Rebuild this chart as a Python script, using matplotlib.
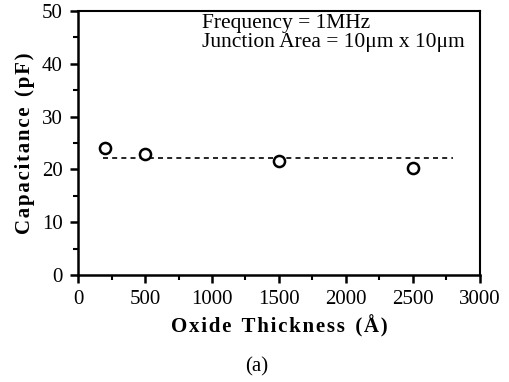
import matplotlib
matplotlib.use("Agg")
import matplotlib.pyplot as plt
from matplotlib.ticker import MultipleLocator

thickness = [200, 500, 1500, 2500]
capacitance = [24.0, 22.9, 21.6, 20.3]
fit_x = [190, 2800]
fit_y = [22.2, 22.2]

plt.rcParams['font.family'] = ['Liberation Serif', 'DejaVu Serif']


def spaced(s, sep='\u200a'):
    return sep.join(s)


fig = plt.figure(figsize=(5.10, 3.82), dpi=100)
ax = fig.add_axes([0.153, 0.280, 0.788, 0.691])

ax.plot(fit_x, fit_y, linestyle=(0, (3, 2.5)), color='black', linewidth=1.2)
ax.plot(thickness, capacitance, 'o', markersize=8, markerfacecolor='white',
        markeredgecolor='black', markeredgewidth=1.8)

ax.set_xlim(0, 3000)
ax.set_ylim(0, 50)
ax.xaxis.set_major_locator(MultipleLocator(500))
ax.xaxis.set_minor_locator(MultipleLocator(250))
ax.yaxis.set_major_locator(MultipleLocator(10))
ax.yaxis.set_minor_locator(MultipleLocator(5))
ax.tick_params(which='major', direction='out', length=6, width=1.8, labelsize=15)
ax.tick_params(axis='x', which='major', pad=5)
ax.tick_params(axis='y', which='major', pad=5)
ax.tick_params(which='minor', direction='out', length=3.6, width=1.5)
for s in ax.spines.values():
    s.set_linewidth(1.8)
ax.spines['top'].set_linewidth(1.5)
ax.spines['right'].set_linewidth(1.5)

ax.set_xlabel(spaced('Oxide') + '  ' + spaced('Thickness') + '  ' + spaced('(Å)'),
              fontsize=15, fontweight='bold', labelpad=4)
ax.set_ylabel(spaced('Capacitance') + '  ' + spaced('(pF)'),
              fontsize=15, fontweight='bold', labelpad=5)

ax.text(0.308, 0.99, 'Frequency = 1MHz\nJunction Area = 10μm x 10μm',
        transform=ax.transAxes, ha='left', va='top', fontsize=15.5, linespacing=1.05)

fig.text(0.503, 0.040, '(a)', ha='center', va='center', fontsize=15)

fig.savefig('out.png', dpi=100)
